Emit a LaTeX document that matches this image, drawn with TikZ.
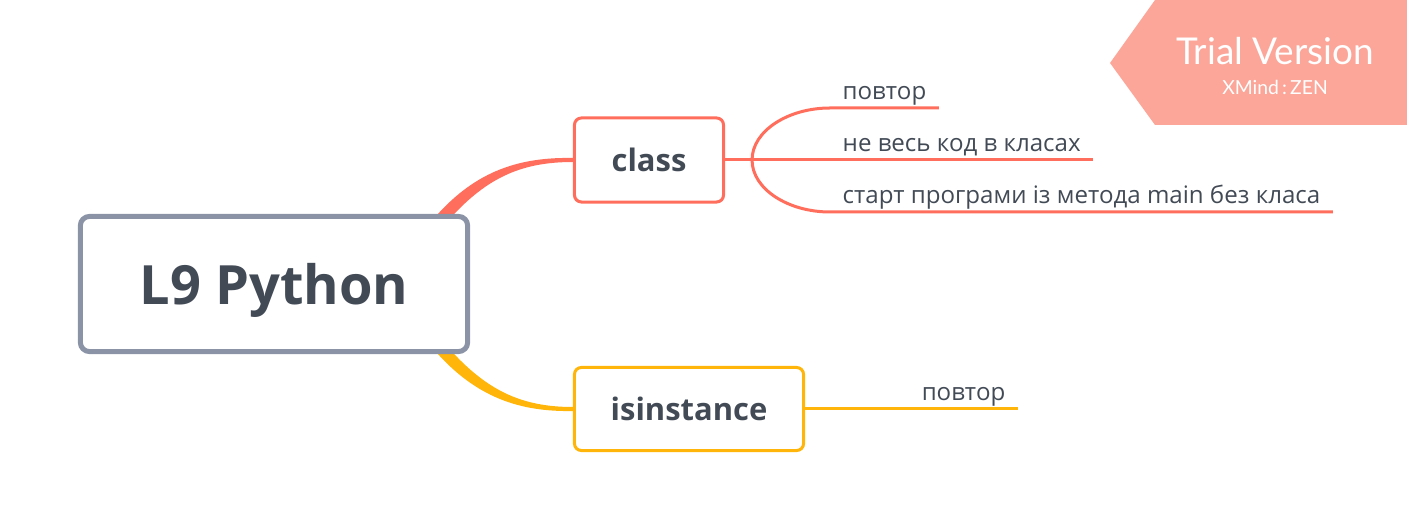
\documentclass[tikz,border=0pt]{standalone}
\usepackage{fontspec}
\setmainfont{Open Sans}
\newfontfamily\trialfont{Lato}
\usepackage{xcolor}
\usetikzlibrary{calc,backgrounds}
\definecolor{inkgray}{HTML}{424A55}
\definecolor{rootframe}{HTML}{8A94A6}
\definecolor{classred}{HTML}{FF6E5C}
\definecolor{instamber}{HTML}{FFB50A}
\definecolor{trialpink}{HTML}{FCA699}

\begin{document}
\begin{tikzpicture}[x=0.01cm, y=-0.01cm,
        topic/.style={draw, fill=white, line width=0.03cm, rounded corners=0.07cm, inner sep=0pt,
            text=inkgray, font=\bfseries\fontsize{8.8}{11}\selectfont},
        subtopic/.style={inner xsep=0.12cm, inner ysep=0.08cm, text depth=0pt,
            text=inkgray, font=\fontsize{6.85}{9}\selectfont},
        branch/.style={line width=0.03cm}]
            \useasboundingbox (0,0) rectangle (1407,531);

            \node[draw=rootframe, line width=0.05cm, rounded corners=0.09cm, fill=white, inner sep=0pt,
                minimum width=3.87cm, minimum height=1.35cm, text=inkgray, text depth=0pt,
                font=\bfseries\fontsize{15.4}{19}\selectfont] (root) at (274,284) {L9 Python};
            \node[topic, draw=classred, minimum width=1.49cm, minimum height=0.84cm] (class) at (649,160) {class};
            \node[topic, draw=instamber, minimum width=2.29cm, minimum height=0.83cm] (isin) at (689,409) {isinstance};

            \coordinate (fork) at ($(class.east)+(27,0)$);
            \node[subtopic, anchor=south west] (rep1) at (830,108) {повтор};
            \node[subtopic, anchor=south west] (part) at (830,160) {не весь код в класах};
            \node[subtopic, anchor=south west] (start) at (830,212) {старт програми із метода main без класа};
            \node[subtopic, anchor=south east] (rep2) at (1018,409) {повтор};

            \draw[classred, branch] (class.east) -- (fork) -- (part.south west) -- (part.south east);
            \draw[classred, branch] (fork) .. controls +(0,-29) and +(-42,0) .. (rep1.south west) -- (rep1.south east);
            \draw[classred, branch] (fork) .. controls +(0,29) and +(-42,0) .. (start.south west) -- (start.south east);
            \draw[instamber, branch] (isin.east) -- (rep2.south east);

            \begin{scope}[on background layer]
                \fill[classred] ($(root.north east)+(-34,2)$) .. controls +(40.5,-45.5) and +(-53,-1) .. ($(class.west)+(0,-2)$)
                    -- ($(class.west)+(0,2)$) .. controls +(-53,0) and +(39.5,-45.5) .. ($(root.north east)+(-25,10)$) -- cycle;
                \fill[instamber] ($(root.south east)+(-34,-2)$) .. controls +(40.5,45.5) and +(-53,1) .. ($(isin.west)+(0,2)$)
                    -- ($(isin.west)+(0,-2)$) .. controls +(-53,0) and +(39.5,45.5) .. ($(root.south east)+(-25,-10)$) -- cycle;
            \end{scope}

            \fill[trialpink] (1110,63) -- (1155,0) -- (1407,0) -- (1407,125) -- (1155,125) -- cycle;
            \node[anchor=base, text=white, font=\trialfont\fontsize{10.5}{12}\selectfont] (trial) at (1275,65) {Trial Version};
            \node[anchor=base, text=white, font=\trialfont\fontsize{5.5}{7}\selectfont] (zen) at (1275,95) {XMind\,:\,ZEN};
        \end{tikzpicture}
\end{document}
